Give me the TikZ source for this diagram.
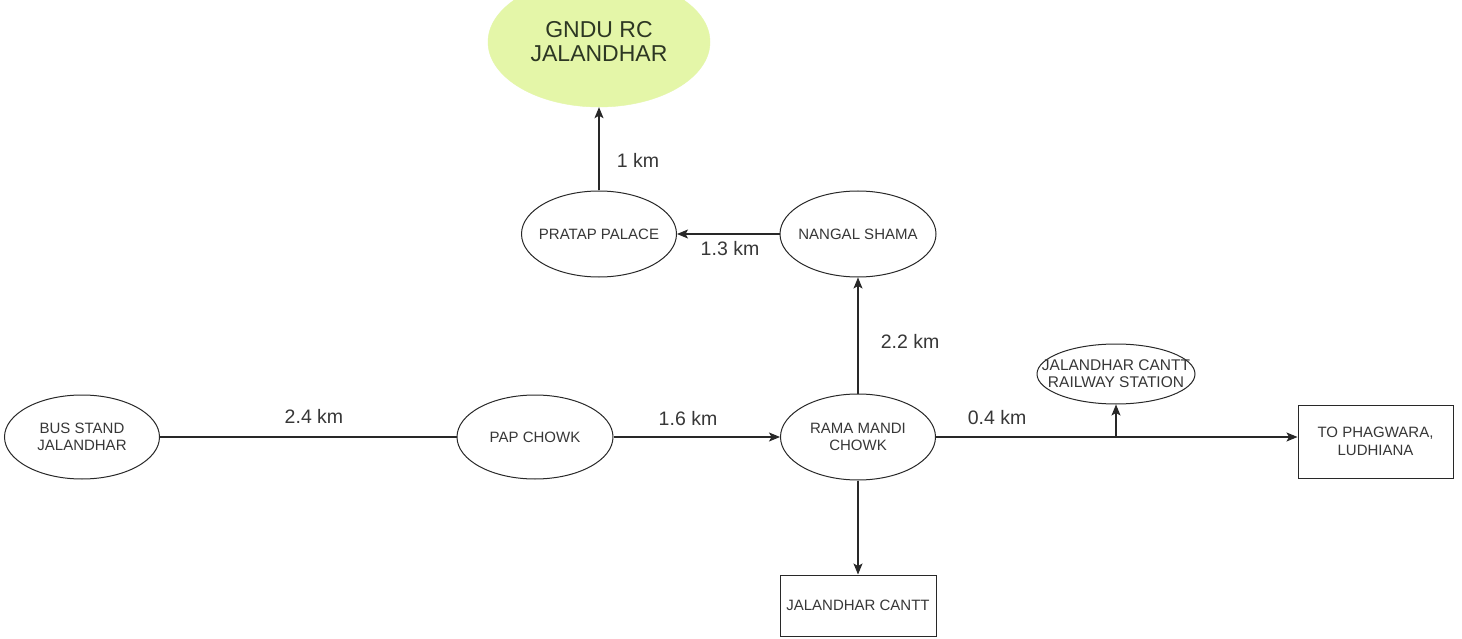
\documentclass[tikz,border=0pt]{standalone}
\usepackage{fontspec}
\setmainfont{Liberation Sans}
\usetikzlibrary{shapes.geometric,arrows.meta}
\definecolor{ln}{RGB}{40,40,40}
\definecolor{tx}{RGB}{55,55,55}
\definecolor{gfill}{RGB}{228,246,168}
\definecolor{gtx}{RGB}{45,55,35}
\tikzset{
  place/.style={ellipse,draw=ln,line width=1pt,inner xsep=-40pt,inner ysep=-20pt,align=center,text=tx,font=\fontsize{15}{17.5}\selectfont},
  boxnode/.style={rectangle,draw=ln,line width=1pt,inner sep=0pt,align=center,text=tx,font=\fontsize{15}{17.5}\selectfont},
  dist/.style={text=tx,font=\fontsize{19.5}{22}\selectfont,inner sep=0pt},
  conn/.style={draw=ln,line width=1.1pt},
  arr/.style={conn,-{Stealth[length=11pt,width=9pt,inset=2.5pt]}}
}
\begin{document}
\begin{tikzpicture}[x=1pt,y=-1pt]
\useasboundingbox[fill=white] (0,0) rectangle (1462,639);
\node[ellipse,fill=gfill,draw=gfill,minimum width=222pt,minimum height=130pt,inner xsep=-40pt,inner ysep=-20pt,align=center,text=gtx,font=\fontsize{23}{24}\selectfont] (gndu) at (599,42) {GNDU RC\\JALANDHAR};
\node[place,minimum width=155pt,minimum height=86pt] (pratap) at (599,234) {PRATAP PALACE};
\node[place,minimum width=156pt,minimum height=86pt] (nangal) at (858,234) {NANGAL SHAMA};
\node[place,minimum width=155pt,minimum height=84pt] (bus) at (82,437) {BUS STAND\\JALANDHAR};
\node[place,minimum width=156pt,minimum height=84pt] (pap) at (535,437) {PAP CHOWK};
\node[place,minimum width=155pt,minimum height=86pt] (rama) at (858,437) {RAMA MANDI\\CHOWK};
\node[place,minimum width=158pt,minimum height=60pt,font=\fontsize{15.5}{17}\selectfont] (rail) at (1116,374) {JALANDHAR CANTT\\RAILWAY STATION};
\node[boxnode,minimum width=155pt,minimum height=73pt] (phag) at (1375.5,441.5) {TO PHAGWARA,\\LUDHIANA};
\node[boxnode,minimum width=156pt,minimum height=61pt] (cantt) at (858,605.5) {JALANDHAR CANTT};
\coordinate (j) at (1116,437);
\draw[conn] (bus.east) -- (pap.west);
\draw[arr] (pap.east) -- (rama.west);
\draw[arr] (rama.east) -- (rama.east -| phag.west);
\draw[arr] (j) -- (rail.south);
\draw[arr] (rama.north) -- (nangal.south);
\draw[arr] (nangal.west) -- (pratap.east);
\draw[arr] (pratap.north) -- (gndu.south);
\draw[arr] (rama.south) -- (cantt.north);
\node[dist] (d1) at (638,160) {1 km};
\node[dist] (d2) at (730,249) {1.3 km};
\node[dist] (d3) at (910,341) {2.2 km};
\node[dist] (d4) at (314,416) {2.4 km};
\node[dist] (d5) at (688,419) {1.6 km};
\node[dist] (d6) at (997,418) {0.4 km};
\end{tikzpicture}
\end{document}
